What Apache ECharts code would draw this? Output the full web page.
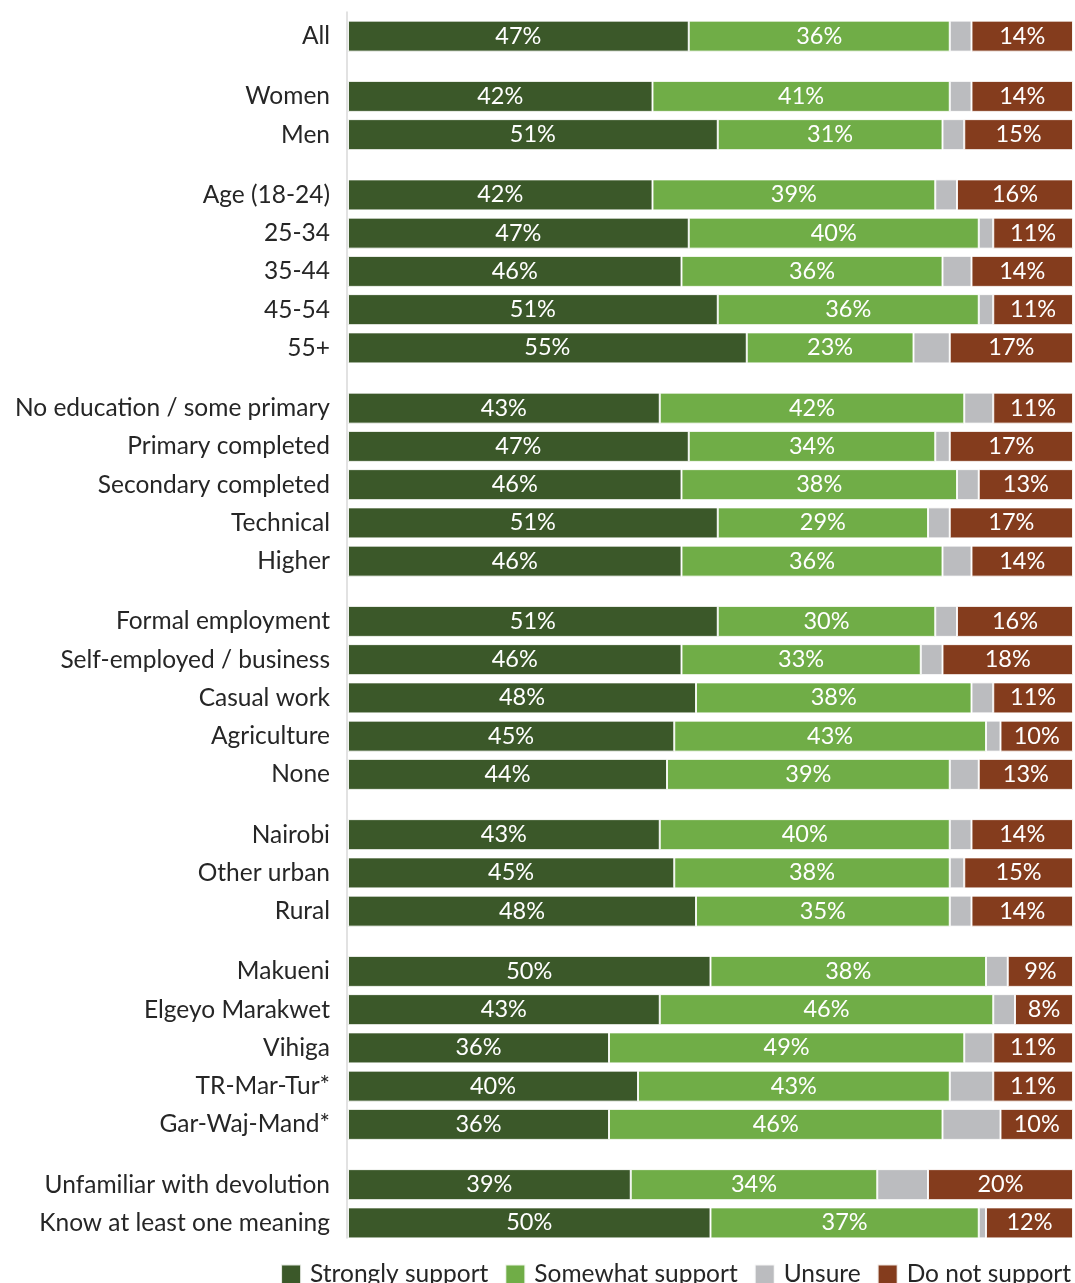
<!DOCTYPE html>
<html>
<head>
<meta charset="utf-8">
<script src="https://cdn.jsdelivr.net/npm/echarts@6/dist/echarts.min.js"></script>
<style>
  html, body { margin: 0; padding: 0; background: #ffffff; }
  #chart { width: 1075px; height: 1283px; }
</style>
</head>
<body>
<div id="chart"></div>
<script>
// Support for devolution, by respondent group (percent of respondents)
const categories = [
  'All',
  'Women', 'Men',
  'Age (18-24)', '25-34', '35-44', '45-54', '55+',
  'No education / some primary', 'Primary completed', 'Secondary completed', 'Technical', 'Higher',
  'Formal employment', 'Self-employed / business', 'Casual work', 'Agriculture', 'None',
  'Nairobi', 'Other urban', 'Rural',
  'Makueni', 'Elgeyo Marakwet', 'Vihiga', 'TR-Mar-Tur*', 'Gar-Waj-Mand*',
  'Unfamiliar with devolution', 'Know at least one meaning'
];
// number of rows in each block of categories, top to bottom
const groupSizes = [1, 2, 5, 5, 5, 3, 5, 2];

const seriesNames = ['Strongly support', 'Somewhat support', 'Unsure', 'Do not support'];

const stronglySupport = [47, 42, 51, 42, 47, 46, 51, 55, 43, 47, 46, 51, 46, 51, 46, 48, 45, 44, 43, 45, 48, 50, 43, 36, 40, 36, 39, 50];
const somewhatSupport = [36, 41, 31, 39, 40, 36, 36, 23, 42, 34, 38, 29, 36, 30, 33, 38, 43, 39, 40, 38, 35, 38, 46, 49, 43, 46, 34, 37];
const unsure          = [3, 3, 3, 3, 2, 4, 2, 5, 4, 2, 3, 3, 4, 3, 3, 3, 2, 4, 3, 2, 3, 3, 3, 4, 6, 8, 7, 1];
const doNotSupport    = [14, 14, 15, 16, 11, 14, 11, 17, 11, 17, 13, 17, 14, 16, 18, 11, 10, 13, 14, 15, 14, 9, 8, 11, 11, 10, 20, 12];

const seriesValues = [stronglySupport, somewhatSupport, unsure, doNotSupport];
const seriesColors = ['#3b5829', '#70ad47', '#bbbcbf', '#843c1d'];
const showLabel = [true, true, false, true];

const FONT = 'Lato, "Open Sans", sans-serif';
const TEXT = '#262626';

// layout of the stacked blocks
const ROW_H = 38.25;
const BLOCK_GAP = 22;
const TOP = 17;
const PLOT_LEFT = 348;

const grids = [], xAxes = [], yAxes = [], series = [];
let y = TOP, start = 0;
groupSizes.forEach((n, g) => {
  const cats = categories.slice(start, start + n);
  grids.push({ left: PLOT_LEFT, right: 2, top: y, height: n * ROW_H, containLabel: false });
  xAxes.push({ gridIndex: g, type: 'value', min: 0, max: 100, show: false });
  yAxes.push({
    gridIndex: g, type: 'category', data: cats, inverse: true,
    axisLine: { show: false }, axisTick: { show: false },
    axisLabel: { margin: 18, fontFamily: FONT, fontSize: 24.5, color: TEXT }
  });
  seriesNames.forEach((name, s) => {
    series.push({
      name, type: 'bar', stack: 'block' + g,
      xAxisIndex: g, yAxisIndex: g,
      barWidth: 31,
      data: seriesValues[s].slice(start, start + n),
      itemStyle: { color: seriesColors[s], borderColor: 'rgba(255,255,255,0.85)', borderWidth: 1 },
      label: {
        show: showLabel[s], position: 'inside', formatter: '{c}%',
        color: '#ffffff', fontFamily: FONT, fontSize: 23.5
      },
      emphasis: { disabled: true }
    });
  });
  y += n * ROW_H + BLOCK_GAP;
  start += n;
});

// full-height vertical axis line on the left of the bars
const lineGrid = grids.length;
grids.push({ left: 347, width: 1, top: 12, bottom: 45 });
xAxes.push({ gridIndex: lineGrid, type: 'value', show: false });
yAxes.push({
  gridIndex: lineGrid, type: 'value', min: 0, max: 1, position: 'left',
  axisLine: { show: true, lineStyle: { color: '#d9d9d9', width: 1.5 } },
  axisTick: { show: false }, axisLabel: { show: false }, splitLine: { show: false }
});

const chart = echarts.init(document.getElementById('chart'), null, { renderer: 'canvas' });
chart.setOption({
  animation: false,
  backgroundColor: '#ffffff',
  grid: grids,
  xAxis: xAxes,
  yAxis: yAxes,
  legend: {
    data: seriesNames,
    right: 4, top: 1262, padding: 0,
    itemWidth: 20, itemHeight: 20, itemGap: 16,
    icon: 'rect',
    textStyle: { fontFamily: FONT, fontSize: 24.5, color: TEXT, padding: [0, 0, 0, 4] }
  },
  series
});
</script>
</body>
</html>
